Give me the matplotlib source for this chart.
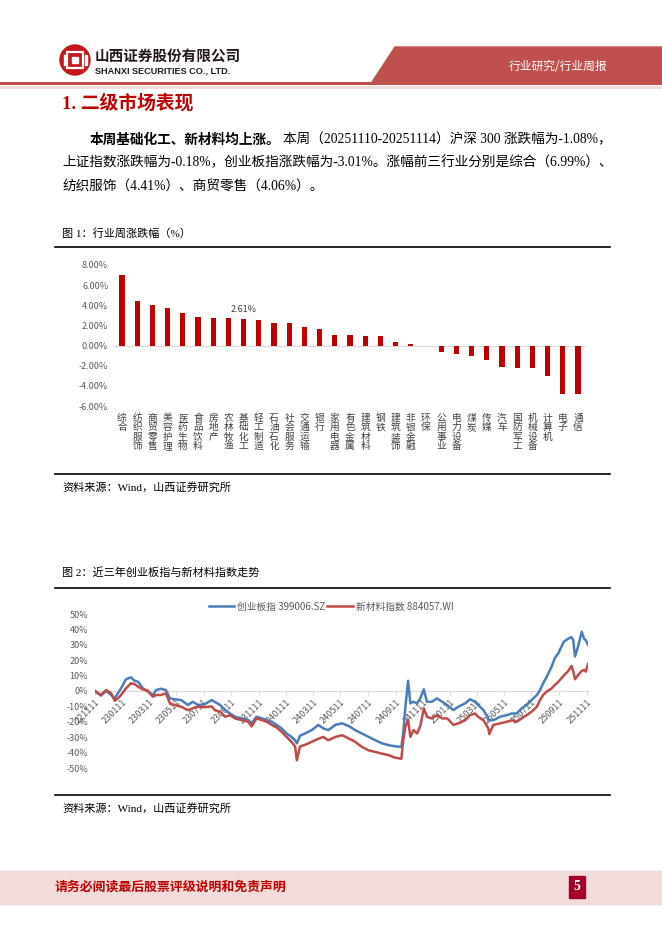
import matplotlib
matplotlib.use("Agg")
import matplotlib.pyplot as plt
import matplotlib.patches as mpatches
import numpy as np
import pandas as pd

W, H = 662, 936
CJK = ["Noto Sans CJK SC", "DejaVu Sans"]
SERIF = ["Liberation Serif", "Noto Sans CJK SC"]
plt.rcParams["font.family"] = CJK

# ---- figure 1: weekly change by industry (%)
industries = ["综合", "纺织服饰", "商贸零售", "美容护理", "医药生物", "食品饮料", "房地产",
              "农林牧渔", "基础化工", "轻工制造", "石油石化", "社会服务", "交通运输", "银行",
              "家用电器", "有色金属", "建筑材料", "钢铁", "建筑装饰", "非银金融", "环保",
              "公用事业", "电力设备", "煤炭", "传媒", "汽车", "国防军工", "机械设备",
              "计算机", "电子", "通信"]
weekly_change = [6.99, 4.41, 4.06, 3.74, 3.27, 2.80, 2.70, 2.70, 2.61, 2.54, 2.28, 2.28,
                 1.82, 1.68, 1.09, 1.06, 0.99, 0.96, 0.36, 0.20, -0.07, -0.63, -0.79,
                 -0.99, -1.39, -2.15, -2.18, -2.24, -3.04, -4.79, -4.79]
labelled_industry = "基础化工"

# ---- figure 2: cumulative change over three years (%)
start_date = "2022-11-11"
days_since_start = [0, 13, 25, 36, 44, 51, 58, 69, 80, 88, 96, 107, 118, 129, 136, 147, 158,
                    167, 178, 192, 207, 218, 230, 245, 260, 267, 279, 290, 301, 312, 327,
                    342, 349, 360, 372, 383, 394, 405, 416, 427, 438, 446, 450, 457, 468,
                    483, 498, 509, 520, 536, 551, 566, 580, 595, 610, 625, 640, 655, 669,
                    683, 687, 692, 698, 703, 710, 718, 725, 733, 740, 751, 762, 774, 785,
                    799, 810, 825, 836, 847, 854, 866, 877, 879, 888, 903, 918, 929, 940,
                    951, 962, 973, 985, 992, 999, 1007, 1018, 1025, 1033, 1045, 1055, 1062,
                    1066, 1070, 1077, 1085, 1090, 1094, 1099]
chinext = [0, -3, 0, -2.6, -4.8, -1.5, 1.7, 7.6, 8.9, 6.7, 6, 1.7, -0.4, -2.6, 0.6, 1.5, 0.6,
           -4.8, -5.4, -5.9, -9.1, -7, -9.1, -8.5, -5.9, -7, -9.1, -12.4, -14.6, -16.7, -17.8,
           -18.9, -21, -16.7, -17.8, -18.9, -20, -22, -24.3, -27.6, -29.8, -32, -34, -29,
           -27.6, -25.4, -22, -24.3, -25.4, -22, -21, -22.8, -25.4, -27.6, -29.8, -32, -34,
           -35.2, -35.9, -36.3, -27.6, -10.2, 6.7, -8, -7, -8, -4.8, 1.1, -7, -7, -4.8, -7,
           -9.1, -12.4, -10.2, -8, -5.4, -7, -9.1, -12.4, -17.8, -19, -19, -16.7, -15.7,
           -14.6, -14.6, -11.3, -9.1, -5.9, -2.6, 0.6, 5, 9.3, 15.9, 21.3, 24.6, 32, 34, 35,
           33, 22.4, 29, 38.5, 34, 33, 30]
new_materials = [0, -2.6, 0.6, -1.5, -6.3, -4.8, -2.6, 1.7, 5, 4.5, 2.8, 1, 0.2, -3.7, -2.6,
                 -2.6, -1.5, -8, -9.1, -10.2, -12.4, -11.3, -10.2, -10.5, -10, -12.4, -13.5,
                 -16.7, -15.7, -17.8, -18.9, -20, -23, -17.8, -18.9, -20, -22, -23.7, -26.5,
                 -29.8, -33, -36, -45, -36, -35, -33, -31, -29.8, -32, -29.8, -28.7, -30.9,
                 -33, -36.3, -38.5, -39.6, -40.7, -41.7, -43.3, -44, -32, -23, -18.9, -29.8,
                 -25.4, -27.6, -23, -11.3, -16.7, -17.8, -15.7, -17.8, -17.8, -22, -21, -19,
                 -15.7, -14.6, -16.7, -19, -24.3, -28, -22, -21, -20, -19, -20, -17.8, -15.7,
                 -13.5, -10.2, -5.9, -2.6, -0.4, 1.7, 3.9, 6, 10, 13, 16.3, 13, 7.6, 10.4, 13,
                 13.7, 12.6, 17.6]
series_names = ["创业板指 399006.SZ", "新材料指数 884057.WI"]
tick_dates = pd.date_range("2022-11-11", periods=19, freq=pd.DateOffset(months=2))


def rect(x0, y0, x1, y1):
    return [x0 / W, 1 - y1 / H, (x1 - x0) / W, (y1 - y0) / H]


fig = plt.figure(figsize=(W / 100, H / 100), dpi=100)
page = fig.add_axes([0, 0, 1, 1])
page.set_xlim(0, W)
page.set_ylim(H, 0)
page.axis("off")

# header
page.add_patch(mpatches.Circle((75, 60), 15, color="#C8161D"))
page.add_patch(mpatches.Rectangle((67, 52), 16, 16, fill=False, ec="white", lw=1.6))
page.add_patch(mpatches.Rectangle((72, 57), 6, 6, color="white"))
page.add_patch(mpatches.Rectangle((63.5, 55), 1.6, 10, color="white"))
page.add_patch(mpatches.Rectangle((85, 55), 1.6, 10, color="white"))
page.text(95, 56, "山西证券股份有限公司", fontsize=10.5, weight="bold", color="#231815", va="center")
page.text(95, 71, "SHANXI SECURITIES CO., LTD.", family="Liberation Sans", weight="bold",
          fontsize=6.6, color="#231815", va="center")
page.add_patch(mpatches.Polygon([(372, 82), (395, 47), (662, 47), (662, 82)], color="#C0504D"))
page.text(558, 66, "行业研究/行业周报", fontsize=8.5, color="white", ha="center", va="center")
page.plot([0, W], [83, 83], color="#C0504D", lw=2.2)
page.plot([0, W], [86.5, 86.5], color="#F2DCDB", lw=2)

page.text(62, 103, "1. 二级市场表现", family=SERIF, fontsize=13.5, weight="bold",
          color="#C00000", va="center")

# paragraph
page.text(90, 140, "本周基础化工、新材料均上涨。", family=SERIF, fontsize=9.8, weight="bold", va="center")
page.text(283, 140, "本周（20251110-20251114）沪深 300 涨跌幅为-1.08%，", family=SERIF,
          fontsize=9.8, va="center")
page.text(62, 163, "上证指数涨跌幅为-0.18%，创业板指涨跌幅为-3.01%。涨幅前三行业分别是综合（6.99%）、",
          family=SERIF, fontsize=9.8, va="center")
page.text(62, 187, "纺织服饰（4.41%）、商贸零售（4.06%）。", family=SERIF, fontsize=9.8, va="center")

# captions and rules
page.text(62, 234, "图 1：行业周涨跌幅（%）", family=SERIF, fontsize=8, va="center")
page.plot([55, 610], [247, 247], color="black", lw=1.2)
page.plot([55, 610], [474, 474], color="black", lw=1.2)
page.text(62, 487, "资料来源：Wind，山西证券研究所", family=SERIF, fontsize=8, va="center")
page.text(62, 572, "图 2：近三年创业板指与新材料指数走势", family=SERIF, fontsize=8, va="center")
page.plot([55, 610], [588, 588], color="black", lw=1.2)
page.plot([55, 610], [795, 795], color="black", lw=1.2)
page.text(62, 808, "资料来源：Wind，山西证券研究所", family=SERIF, fontsize=8, va="center")

# footer
page.add_patch(mpatches.Rectangle((0, 871), W, 33, color="#F2DCDB"))
page.text(55, 887, "请务必阅读最后股票评级说明和免责声明", fontsize=9.3, weight="bold",
          color="#C00000", va="center")
page.add_patch(mpatches.Rectangle((569, 876), 16, 22, color="#A5002A"))
page.text(577, 887, "5", family="Liberation Serif", fontsize=10, weight="bold", color="white",
          ha="center", va="center")

# ---- bar chart
ax1 = fig.add_axes(rect(114.4, 265, 585.6, 406))
x = np.arange(len(industries))
ax1.bar(x, weekly_change, width=0.33, color="#C00000")
ax1.axhline(0, color="#D9D9D9", lw=0.8, zorder=0)
ax1.set_xlim(-0.5, len(industries) - 0.5)
ax1.set_ylim(-6, 8)
yt = np.arange(-6, 9, 2)
ax1.set_yticks(yt)
ax1.set_yticklabels([f"{v:.2f}%" for v in yt])
ax1.set_xticks(x)
ax1.set_xticklabels(["\n".join(n) for n in industries], fontsize=7, linespacing=0.92, va="top")
ax1.tick_params(axis="y", length=0, labelsize=6.5, labelcolor="#595959", pad=4.5)
ax1.tick_params(axis="x", length=0, labelcolor="#404040", pad=5)
for s in ax1.spines.values():
    s.set_visible(False)
i = industries.index(labelled_industry)
ax1.annotate(f"{weekly_change[i]:.2f}%", (i, weekly_change[i]), xytext=(0, 4),
             textcoords="offset points", ha="center", va="bottom", fontsize=6.5, color="#404040")

# ---- line chart
ax2 = fig.add_axes(rect(95, 614, 588, 768))
for s in ["top", "right", "left"]:
    ax2.spines[s].set_visible(False)
ax2.spines["bottom"].set_position(("data", 0))
ax2.spines["bottom"].set_color("#D9D9D9")
ax2.spines["bottom"].set_zorder(0)
dates = pd.to_datetime(start_date) + pd.to_timedelta(days_since_start, unit="D")
ax2.plot(dates, chinext, color="#4A7EBB", lw=1.8, label=series_names[0])
ax2.plot(dates, new_materials, color="#BE4B48", lw=1.8, label=series_names[1])
ax2.set_xlim(pd.Timestamp("2022-11-11"), pd.Timestamp("2025-11-14"))
ax2.set_ylim(-50, 50)
yt2 = np.arange(-50, 51, 10)
ax2.set_yticks(yt2)
ax2.set_yticklabels([f"{v}%" for v in yt2])
ax2.set_xticks(tick_dates)
ax2.set_xticklabels([d.strftime("%y%m%d") for d in tick_dates], rotation=45, ha="right",
                    rotation_mode="anchor")
ax2.tick_params(axis="y", length=0, labelsize=6.5, labelcolor="#595959", pad=5)
ax2.tick_params(axis="x", direction="out", length=3, color="#D9D9D9", labelsize=6.5,
                labelcolor="#595959", pad=2)
ax2.legend(loc="lower center", bbox_to_anchor=(0.479, 0.99), ncol=2, frameon=False,
           fontsize=7, handlelength=2.6, columnspacing=0.2, handletextpad=0.3,
           labelcolor="#595959", borderaxespad=0)

fig.savefig("out.png", dpi=100)
